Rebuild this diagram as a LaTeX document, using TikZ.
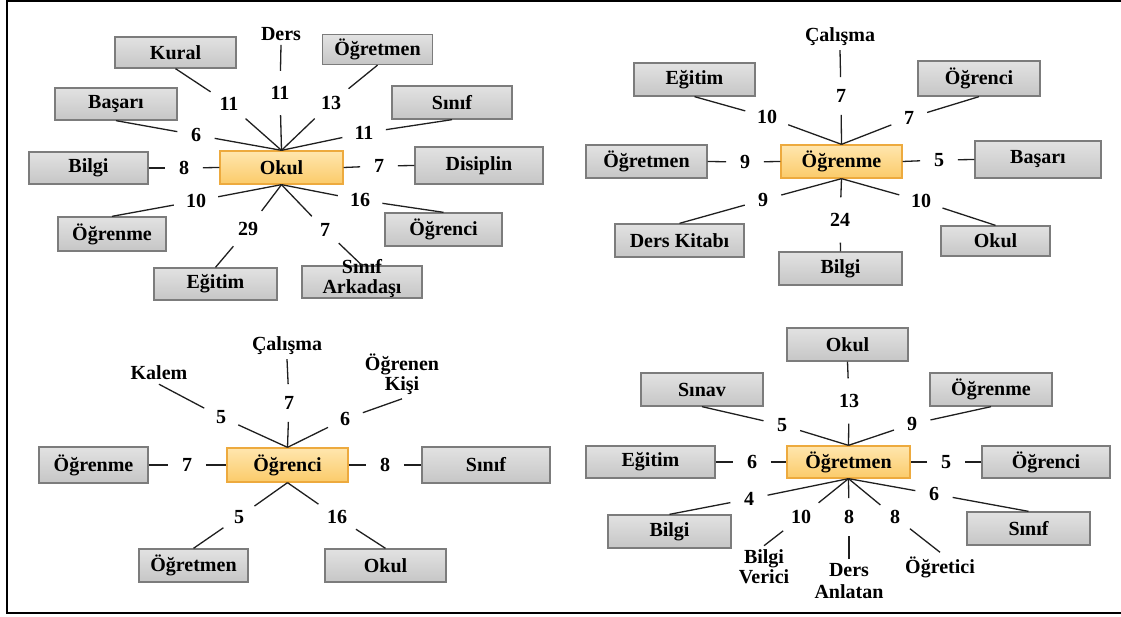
\documentclass[tikz,border=0pt]{standalone}
\usepackage{fontspec}
\setmainfont{Liberation Serif}
\newcommand{\lblfont}{\fontsize{20}{21}\selectfont\bfseries}
\definecolor{otop}{HTML}{FFE6AE}
\definecolor{obot}{HTML}{FBCB6A}
\definecolor{obord}{HTML}{EDAA3E}
\definecolor{gtop}{HTML}{E2E2E2}
\definecolor{gbot}{HTML}{C6C6C6}
\definecolor{gbord}{HTML}{7C7C7C}
\tikzset{
  gbox/.style={draw=gbord, line width=1.3pt, top color=gtop, bottom color=gbot, minimum height=33pt, inner sep=1pt, font=\lblfont},
  obox/.style={draw=obord, line width=1.3pt, top color=otop, bottom color=obot, minimum height=33pt, inner sep=1pt, font=\lblfont},
  num/.style={circle, inner sep=7.5pt, font=\lblfont, text height=13pt, text depth=0pt},
  word/.style={inner sep=4pt, font=\lblfont, align=center},
  spoke/.style={line width=1.3pt, draw=black!88},
  thickspoke/.style={line width=2.4pt, draw=black!88},
}
\newcommand{\spk}[3]{\draw[spoke] (#1) -- (#2); \draw[spoke] (#2) -- (#3);}
\newcommand{\twoline}[2]{\raisebox{-5pt}{\smash{\def\arraystretch{0.87}\begin{tabular}{@{}c@{}}#1\\#2\end{tabular}}}}
\begin{document}
\begin{tikzpicture}[x=1pt, y=-1pt]
\useasboundingbox (0,0) rectangle (1121,617);
\draw[line width=2pt, line cap=rect] (1125,1.5) -- (7,1.5) -- (7,613) -- (1125,613);

% ---------- Quadrant 1: Okul ----------
\node[obox, minimum width=123pt] (okulA) at (281.5,167.5) {Okul};
\node[gbox, minimum width=121pt, minimum height=31pt] (kuralA) at (175.5,52.5) {Kural};
\node[word] (dersA) at (281,34) {Ders};
\node[gbox, minimum width=110pt, minimum height=30pt] (ogretmenA) at (377.5,49.5) {Öğretmen};
\node[gbox, minimum width=122pt, minimum height=32pt] (basariA) at (116,104) {Başarı};
\node[gbox, minimum width=120pt] (sinifA) at (452,102.5) {Sınıf};
\node[gbox, minimum width=119pt, minimum height=32pt] (bilgiA) at (88.5,168) {Bilgi};
\node[gbox, minimum width=128pt, minimum height=37pt] (disiplinA) at (479,165.5) {Disiplin};
\node[gbox, minimum width=108pt, minimum height=34pt] (ogrenmeA) at (112,234) {Öğrenme};
\node[gbox, minimum width=117pt] (ogrenciA) at (443.5,229.5) {Öğrenci};
\node[gbox, minimum width=123pt, minimum height=32pt] (egitimA) at (215.5,284) {Eğitim};
\node[gbox, minimum width=120pt, minimum height=32pt] (sinifarkA) at (362,282) {\twoline{Sınıf}{Arkadaşı}};

\node[num] (nKuralA) at (229,104) {11};
\node[num] (nDersA) at (280,93) {11};
\node[num] (nOgretmenA) at (331,103) {13};
\node[num] (nSinifA) at (364,133) {11};
\node[num] (nBasariA) at (196,135) {6};
\node[num] (nBilgiA) at (184,168) {8};
\node[num] (nDisiplinA) at (379,166) {7};
\node[num] (nOgrenmeA) at (196,201) {10};
\node[num] (nOgrenciA) at (360,200) {16};
\node[num] (nEgitimA) at (248,229) {29};
\node[num] (nSinifarkA) at (325,230) {7};

\spk{kuralA.south}{nKuralA}{okulA.north}
\spk{dersA.south}{nDersA}{okulA.north}
\spk{ogretmenA.south}{nOgretmenA}{okulA.north}
\spk{sinifA.south}{nSinifA}{okulA.north}
\spk{basariA.south}{nBasariA}{okulA.north}
\spk{bilgiA.east}{nBilgiA}{okulA.west}
\spk{disiplinA.west}{nDisiplinA}{okulA.east}
\spk{ogrenmeA.north}{nOgrenmeA}{okulA.south}
\spk{ogrenciA.north}{nOgrenciA}{okulA.south}
\spk{egitimA.north}{nEgitimA}{okulA.south}
\spk{sinifarkA.north}{nSinifarkA}{okulA.south}

% ---------- Quadrant 2: Öğrenme ----------
\node[obox, minimum width=121pt] (ogrenmeB) at (841.5,161.5) {Öğrenme};
\node[word] (calismaB) at (840,37) {Çalışma};
\node[gbox, minimum width=121pt] (egitimB) at (694.5,79.5) {Eğitim};
\node[gbox, minimum width=122pt, minimum height=35pt] (ogrenciB) at (979,78.5) {Öğrenci};
\node[gbox, minimum width=121pt] (ogretmenB) at (646.5,161.5) {Öğretmen};
\node[gbox, minimum width=126pt, minimum height=37pt] (basariB) at (1038,159.5) {Başarı};
\node[gbox, minimum width=129pt] (derskitabiB) at (679.5,240.5) {Ders Kitabı};
\node[gbox, minimum width=123pt] (bilgiB) at (840.5,268.5) {Bilgi};
\node[gbox, minimum width=109pt, minimum height=30pt] (okulB) at (995.5,241) {Okul};

\node[num] (nCalismaB) at (841,96) {7};
\node[num] (nEgitimB) at (767,117) {10};
\node[num] (nOgrenciB) at (909,118) {7};
\node[num] (nOgretmenB) at (745,162) {9};
\node[num] (nBasariB) at (939,160) {5};
\node[num] (nDerskitabiB) at (763,200) {9};
\node[num] (nBilgiB) at (840,220) {24};
\node[num] (nOkulB) at (921,201) {10};

\spk{calismaB.south}{nCalismaB}{ogrenmeB.north}
\spk{egitimB.south}{nEgitimB}{ogrenmeB.north}
\spk{ogrenciB.south}{nOgrenciB}{ogrenmeB.north}
\spk{ogretmenB.east}{nOgretmenB}{ogrenmeB.west}
\spk{basariB.west}{nBasariB}{ogrenmeB.east}
\spk{derskitabiB.north}{nDerskitabiB}{ogrenmeB.south}
\spk{bilgiB.north}{nBilgiB}{ogrenmeB.south}
\spk{okulB.north}{nOkulB}{ogrenmeB.south}

% ---------- Quadrant 3: Öğrenci ----------
\node[obox, minimum width=121pt, minimum height=34pt] (ogrenciC) at (287.5,465) {Öğrenci};
\node[word] (calismaC) at (287,346) {Çalışma};
\node[word] (kalemC) at (159,373) {Kalem};
\node[word, font=\fontsize{20}{20.5}\selectfont\bfseries] (ogrenenC) at (402,374) {Öğrenen\\Kişi};
\node[gbox, minimum width=109pt, minimum height=36pt] (ogrenmeC) at (93.5,465) {Öğrenme};
\node[gbox, minimum width=128pt, minimum height=36pt] (sinifC) at (486,465) {Sınıf};
\node[gbox, minimum width=109pt] (ogretmenC) at (193.5,565.5) {Öğretmen};
\node[gbox, minimum width=121pt] (okulC) at (385.5,565.5) {Okul};

\node[num] (nCalismaC) at (289,403) {7};
\node[num] (nKalemC) at (221,417) {5};
\node[num] (nOgrenenC) at (345,419) {6};
\node[num] (nOgrenmeC) at (187,465) {7};
\node[num] (nSinifC) at (385,465) {8};
\node[num] (nOgretmenC) at (239,517) {5};
\node[num] (nOkulC) at (337,517) {16};

\spk{calismaC.south}{nCalismaC}{ogrenciC.north}
\spk{kalemC.south}{nKalemC}{ogrenciC.north}
\spk{ogrenenC.south}{nOgrenenC}{ogrenciC.north}
\draw[spoke] (ogrenmeC.east) -- (nOgrenmeC);
\draw[thickspoke] (nOgrenmeC) -- (ogrenciC.west);
\draw[thickspoke] (ogrenciC.east) -- (nSinifC);
\draw[spoke] (nSinifC) -- (sinifC.west);
\spk{ogretmenC.north}{nOgretmenC}{ogrenciC.south}
\spk{okulC.north}{nOkulC}{ogrenciC.south}

% ---------- Quadrant 4: Öğretmen ----------
\node[obox, minimum width=123pt, minimum height=32pt] (ogretmenD) at (848.5,462) {Öğretmen};
\node[gbox, minimum width=121pt] (okulD) at (847.5,344.5) {Okul};
\node[gbox, minimum width=122pt] (sinavD) at (702,389.5) {Sınav};
\node[gbox, minimum width=122pt] (ogrenmeD) at (991,389.5) {Öğrenme};
\node[gbox, minimum width=129pt, minimum height=32pt] (egitimD) at (650.5,462) {Eğitim};
\node[gbox, minimum width=128pt, minimum height=32pt] (ogrenciD) at (1046,462) {Öğrenci};
\node[gbox, minimum width=123pt] (bilgiD) at (669.5,531.5) {Bilgi};
\node[gbox, minimum width=123pt] (sinifD) at (1028.5,528.5) {Sınıf};
\node[word, font=\fontsize{20}{20}\selectfont\bfseries] (bilgivericiD) at (764,567) {Bilgi\\Verici};
\node[word, font=\fontsize{20}{22}\selectfont\bfseries] (dersanlatanD) at (849,581) {Ders\\Anlatan};
\node[word] (ogreticiD) at (940,567) {Öğretici};

\node[num] (nOkulD) at (849,401) {13};
\node[num] (nSinavD) at (782,425) {5};
\node[num] (nOgrenmeD) at (912,424) {9};
\node[num] (nEgitimD) at (752,462) {6};
\node[num] (nOgrenciD) at (946,462) {5};
\node[num] (nBilgiD) at (749,499) {4};
\node[num] (nBilgivericiD) at (801,517) {10};
\node[num] (nDersanlatanD) at (849,517) {8};
\node[num] (nOgreticiD) at (895,517) {8};
\node[num] (nSinifD) at (934,494) {6};

\spk{okulD.south}{nOkulD}{ogretmenD.north}
\spk{sinavD.south}{nSinavD}{ogretmenD.north}
\spk{ogrenmeD.south}{nOgrenmeD}{ogretmenD.north}
\spk{egitimD.east}{nEgitimD}{ogretmenD.west}
\spk{ogrenciD.west}{nOgrenciD}{ogretmenD.east}
\spk{bilgiD.north}{nBilgiD}{ogretmenD.south}
\spk{bilgivericiD.north}{nBilgivericiD}{ogretmenD.south}
\spk{dersanlatanD.north}{nDersanlatanD}{ogretmenD.south}
\spk{ogreticiD.north}{nOgreticiD}{ogretmenD.south}
\spk{sinifD.north}{nSinifD}{ogretmenD.south}
\end{tikzpicture}
\end{document}
